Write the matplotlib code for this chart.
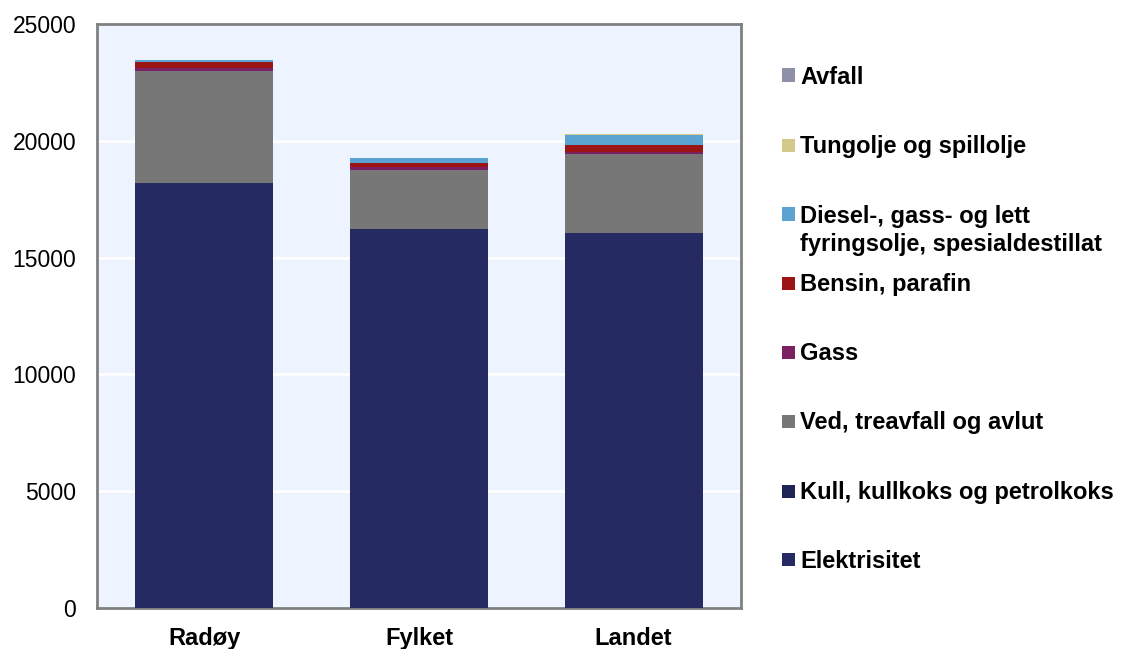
import matplotlib
matplotlib.use("Agg")
import matplotlib.pyplot as plt
import numpy as np
from matplotlib.patches import Rectangle

# Energy use by source (stacked), for the municipality, county and country
categories = ["Radøy", "Fylket", "Landet"]

series_names = [
    "Elektrisitet",
    "Kull, kullkoks og petrolkoks",
    "Ved, treavfall og avlut",
    "Gass",
    "Bensin, parafin",
    "Diesel-, gass- og lett\nfyringsolje, spesialdestillat",
    "Tungolje og spillolje",
    "Avfall",
]

elektrisitet = [18200, 16220, 16070]
kull = [0, 0, 0]
ved = [4790, 2530, 3360]
gass = [115, 140, 86]
bensin = [257, 170, 283]
diesel = [100, 190, 458]
tungolje = [10, 10, 43]
avfall = [0, 0, 0]

series_values = [elektrisitet, kull, ved, gass, bensin, diesel, tungolje, avfall]

colors = ["#252B62", "#1F2557", "#777777", "#7B2163",
          "#9B1515", "#5BA3D0", "#D3C98B", "#8E90A8"]

yticks = [0, 5000, 10000, 15000, 20000, 25000]

plt.rcParams["font.family"] = ["Liberation Sans", "DejaVu Sans"]

fig = plt.figure(figsize=(11.21, 6.49), dpi=100)
ax = fig.add_axes([97 / 1121, 1 - 608 / 649, 644 / 1121, 584 / 649])
ax.set_facecolor("#EDF4FF")

x = np.arange(len(categories))
bottom = np.zeros(len(categories))
for vals, col in zip(series_values, colors):
    ax.bar(x, vals, width=0.643, bottom=bottom, color=col,
           edgecolor="none", zorder=3)
    bottom += np.array(vals)

ax.set_xlim(-0.5, len(categories) - 0.5)
ax.set_ylim(0, 25000)
ax.set_yticks(yticks)
ax.set_yticklabels([str(v) for v in yticks], fontsize=16.5)
ax.set_xticks(x)
ax.set_xticklabels(categories, fontsize=17, fontweight="bold")
ax.tick_params(axis="x", length=0, pad=14)
ax.tick_params(axis="y", length=0, pad=15)
ax.yaxis.grid(True, color="white", linewidth=2, zorder=1)
ax.set_axisbelow(True)
for sp in ax.spines.values():
    sp.set_color("#808080")
    sp.set_linewidth(2)

# Legend drawn at the right, top entry first
item_y = [75, 145, 214, 283, 352, 421, 491, 559]
for name, col, yy in zip(series_names[::-1], colors[::-1], item_y):
    fy = 1 - yy / 649
    fig.patches.append(Rectangle((782 / 1121, fy - 6.5 / 649), 13 / 1121, 13 / 649,
                                 transform=fig.transFigure, facecolor=col,
                                 edgecolor="none"))
    fig.text(800 / 1121, fy + 9.5 / 649, name, fontsize=17, fontweight="bold",
             va="top", ha="left", linespacing=1.28)

fig.savefig("out.png", dpi=100)
